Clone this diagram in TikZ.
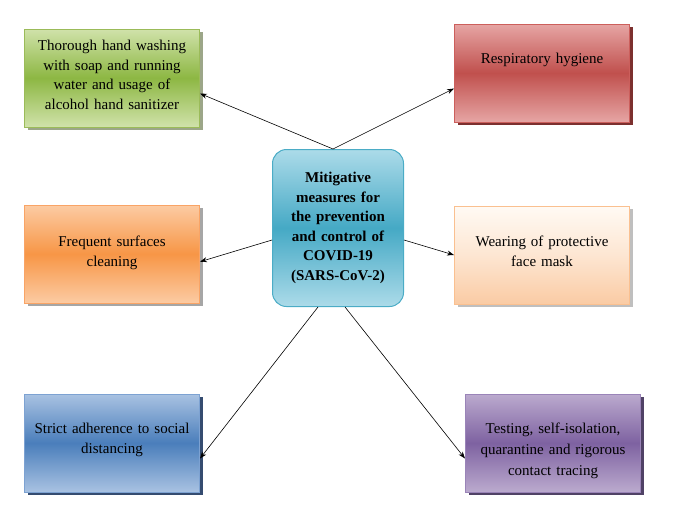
\documentclass[tikz,border=0pt]{standalone}
\usepackage{fontspec}
\setmainfont{Liberation Serif}
\usepackage{xcolor}
\usepackage{tikz}
\usetikzlibrary{positioning,shadows,arrows.meta}
\definecolor{washtop}{HTML}{D0E2AA}
\definecolor{washmid}{HTML}{8DB743}
\definecolor{washline}{HTML}{9BBB59}
\definecolor{washshade}{HTML}{5A6B3A}
\definecolor{hygtop}{HTML}{E6A5A4}
\definecolor{hygmid}{HTML}{C0504D}
\definecolor{hygline}{HTML}{CC5F5C}
\definecolor{hygshade}{HTML}{6E1A18}
\definecolor{hubtop}{HTML}{ACDBE9}
\definecolor{hubmid}{HTML}{45A9C5}
\definecolor{hubline}{HTML}{4BACC6}
\definecolor{cleantop}{HTML}{FCCBA3}
\definecolor{cleanmid}{HTML}{F79646}
\definecolor{cleanline}{HTML}{F9A466}
\definecolor{masktop}{HTML}{FFFAF4}
\definecolor{maskmid}{HTML}{FDE6D2}
\definecolor{maskbot}{HTML}{FACBA4}
\definecolor{maskline}{HTML}{FAC090}
\definecolor{disttop}{HTML}{A9C2E2}
\definecolor{distmid}{HTML}{4A7EBB}
\definecolor{distline}{HTML}{7DA2D2}
\definecolor{distshade}{HTML}{1F3860}
\definecolor{testtop}{HTML}{BBAACE}
\definecolor{testmid}{HTML}{7E62A1}
\definecolor{testline}{HTML}{9A84B8}
\definecolor{testshade}{HTML}{3D2D55}
\tikzset{
  measure/.style={rectangle, draw, line width=1pt, align=center,
    text width=160pt, minimum width=175pt, minimum height=98pt,
    inner xsep=7.5pt, inner ysep=4pt,
    font=\fontsize{15}{20}\selectfont},
  hub/.style={rectangle, rounded corners=14pt, draw=hubline, line width=1pt,
    top color=hubtop, bottom color=hubtop, middle color=hubmid,
    align=center, text width=125pt, minimum width=131pt, minimum height=157pt,
    inner xsep=3pt, font=\bfseries\fontsize{15}{19.5}\selectfont},
  link/.style={-{Stealth[length=7pt,width=5pt]}, line width=0.6pt, black}
}
\begin{document}
\begin{tikzpicture}[x=1pt,y=-1pt]
  \useasboundingbox (0,0) rectangle (674,507);

  \node[hub] (hub) at (338,228) {Mitigative\\measures for\\the prevention\\and control of\\COVID-19\\(SARS-CoV-2)};

  \node[measure, draw=washline, top color=washtop, bottom color=washtop, middle color=washmid,
    drop shadow={shadow xshift=3pt, shadow yshift=-3pt, fill=washshade, opacity=.6}]
    (wash) at (112,78) {Thorough hand washing\\[-0.5pt]with soap and running\\[-0.5pt]water and usage of\\[-0.5pt]alcohol hand sanitizer\\[-14pt]\mbox{}};
  \node[measure, draw=hygline, top color=hygtop, bottom color=hygtop, middle color=hygmid,
    drop shadow={shadow xshift=3pt, shadow yshift=-3pt, fill=hygshade, opacity=.9}]
    (hygiene) at (542,73) {Respiratory hygiene\\[10pt]\mbox{}};
  \node[measure, draw=cleanline, top color=cleantop, bottom color=cleantop, middle color=cleanmid,
    drop shadow={shadow xshift=3pt, shadow yshift=-3pt, fill=gray, opacity=.7}]
    (clean) at (112,254) {Frequent surfaces\\cleaning\\[-14pt]\mbox{}};
  \node[measure, draw=maskline, top color=masktop, bottom color=maskbot, middle color=maskmid,
    drop shadow={shadow xshift=3pt, shadow yshift=-3pt, fill=gray, opacity=.5}]
    (mask) at (542,255) {Wearing of protective\\face mask\\[-12pt]\mbox{}};
  \node[measure, draw=distline, top color=disttop, bottom color=disttop, middle color=distmid,
    drop shadow={shadow xshift=3pt, shadow yshift=-3pt, fill=distshade, opacity=.9}]
    (distance) at (112,443) {Strict adherence to social\\distancing\\[-10pt]\mbox{}};
  \node[measure, draw=testline, top color=testtop, bottom color=testtop, middle color=testmid,
    drop shadow={shadow xshift=3pt, shadow yshift=-3pt, fill=testshade, opacity=.9}]
    (testing) at (553,443) {\rule{0pt}{27pt}Testing, self-isolation,\\[1pt]quarantine and rigorous\\[1pt]contact tracing};

  % connectors from the hub
  \draw[link] ([xshift=-5pt]hub.north) -- (wash.-10);
  \draw[link] ([xshift=-5pt]hub.north) -- (hygiene.190);
  \draw[link] ([yshift=-12pt]hub.west) -- (clean.-5);
  \draw[link] ([yshift=-12pt]hub.east) -- (mask.west);
  \draw[link] ([xshift=-20pt]hub.south) -- (distance.-10);
  \draw[link] ([xshift=7pt]hub.south) -- (testing.190);
\end{tikzpicture}
\end{document}
